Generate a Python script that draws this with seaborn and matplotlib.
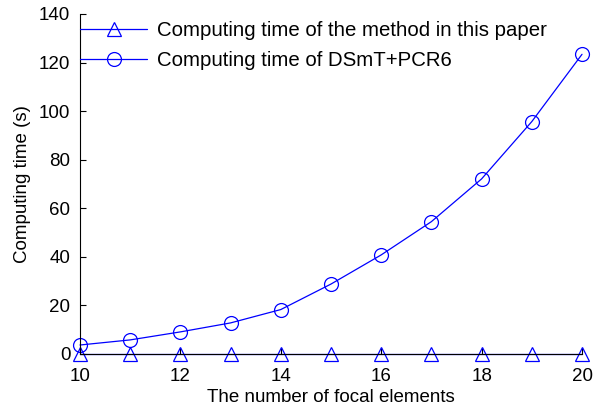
import matplotlib
matplotlib.use("Agg")
import matplotlib.pyplot as plt
import seaborn as sns
import pandas as pd

x_vals = [10, 11, 12, 13, 14, 15, 16, 17, 18, 19, 20]
proposed = [0.1, 0.1, 0.1, 0.1, 0.1, 0.1, 0.1, 0.1, 0.1, 0.1, 0.1]
dsmt = [3.7, 5.8, 9.1, 12.8, 18.3, 28.8, 40.8, 54.5, 72.1, 95.7, 123.4]
labels = ["Computing time of the method in this paper", "Computing time of DSmT+PCR6"]

sns.set_theme(style="ticks")
plt.rcParams['font.family'] = ['Liberation Sans', 'DejaVu Sans']
plt.rcParams['text.color'] = 'black'
plt.rcParams['axes.labelcolor'] = 'black'

df = pd.DataFrame({
    "x": x_vals * 2,
    "y": proposed + dsmt,
    "series": [labels[0]] * len(x_vals) + [labels[1]] * len(x_vals),
})

fig = plt.figure(figsize=(6.01, 4.09), dpi=100)
ax = fig.add_axes([0.1331, 0.1345, 0.8353, 0.8313])

sns.lineplot(data=df, x="x", y="y", hue="series", style="series",
             palette=["#0000ff", "#0000ff"], markers=["^", "o"], dashes=False,
             markersize=10, markerfacecolor="none", markeredgecolor="#0000ff",
             markeredgewidth=0.9, linewidth=0.9, ax=ax)
for ln in ax.lines:
    ln.set_clip_on(False)

ax.set_xlim(10, 20)
ax.set_ylim(0, 140)
ax.set_xticks([10, 12, 14, 16, 18, 20])
ax.set_yticks([0, 20, 40, 60, 80, 100, 120, 140])
ax.tick_params(direction="in", length=4, width=0.8, labelsize=13.5, colors="black")
ax.tick_params(axis="x", pad=10)
ax.tick_params(axis="y", pad=7)
for s in ["top", "right"]:
    ax.spines[s].set_visible(False)
for s in ["left", "bottom"]:
    ax.spines[s].set_color("black")
    ax.spines[s].set_linewidth(0.8)
ax.set_xlabel("The number of focal elements", fontsize=13.5, labelpad=3, color="black")
ax.set_ylabel("Computing time (s)", fontsize=13.5, labelpad=6, color="black")

leg = ax.legend(loc="upper left", frameon=False, fontsize=14.7, handlelength=3.3,
                borderaxespad=0.0, borderpad=0.0, labelspacing=0.55,
                handletextpad=0.45, bbox_to_anchor=(0.0, 0.98))
for t in leg.get_texts():
    t.set_color("black")
for h in leg.legend_handles:
    h.set_markerfacecolor("none")
    h.set_markeredgecolor("#0000ff")
    h.set_linewidth(0.9)

fig.savefig("out.png", dpi=100)
